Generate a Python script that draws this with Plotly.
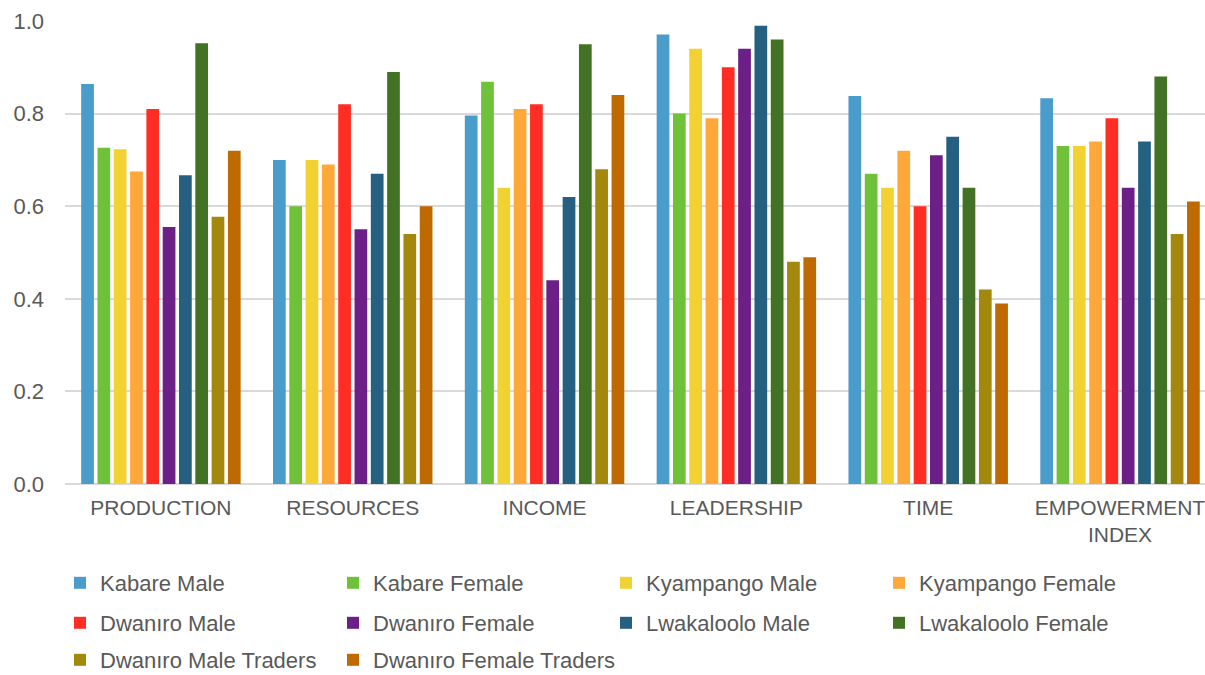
import plotly.graph_objects as go

categories = ["PRODUCTION", "RESOURCES", "INCOME", "LEADERSHIP", "TIME", "EMPOWERMENT<br>INDEX"]

series_names = [
    "Kabare Male", "Kabare Female", "Kyampango Male", "Kyampango Female",
    "Dwanıro Male", "Dwanıro Female", "Lwakaloolo Male", "Lwakaloolo Female",
    "Dwanıro Male Traders", "Dwanıro Female Traders",
]

kabare_male = [0.864, 0.70, 0.796, 0.971, 0.838, 0.833]
kabare_female = [0.726, 0.60, 0.869, 0.80, 0.67, 0.73]
kyampango_male = [0.723, 0.70, 0.64, 0.94, 0.64, 0.73]
kyampango_female = [0.675, 0.69, 0.81, 0.79, 0.72, 0.74]
dwaniro_male = [0.81, 0.82, 0.82, 0.90, 0.60, 0.79]
dwaniro_female = [0.555, 0.55, 0.44, 0.94, 0.71, 0.64]
lwakaloolo_male = [0.667, 0.67, 0.62, 0.99, 0.75, 0.74]
lwakaloolo_female = [0.952, 0.89, 0.95, 0.96, 0.64, 0.88]
dwaniro_male_traders = [0.577, 0.54, 0.68, 0.48, 0.42, 0.54]
dwaniro_female_traders = [0.72, 0.60, 0.84, 0.49, 0.39, 0.61]

series_values = [
    kabare_male, kabare_female, kyampango_male, kyampango_female,
    dwaniro_male, dwaniro_female, lwakaloolo_male, lwakaloolo_female,
    dwaniro_male_traders, dwaniro_female_traders,
]

colors = [
    "#4A9CCB", "#70C13A", "#F1D232", "#FFA83A", "#FF2D23",
    "#6C1F86", "#266081", "#427325", "#A4870D", "#BE6A00",
]

y_ticks = [0.0, 0.2, 0.4, 0.6, 0.8, 1.0]
y_tick_labels = ["0.0", "0.2", "0.4", "0.6", "0.8", "1.0"]

FONT = "Liberation Sans, Arial, sans-serif"
GREY = "#595959"

# legend rows: four entries, four entries, then the two trader entries
# each in a legend of its own so the long last label is not clipped
legend_ids = ["legend"] * 4 + ["legend2"] * 4 + ["legend3", "legend4"]

fig = go.Figure()
for name, vals, col, lg in zip(series_names, series_values, colors, legend_ids):
    fig.add_trace(go.Bar(
        x=categories, y=vals, name=name, legend=lg,
        marker=dict(color=col, line=dict(width=0)),
    ))

W, H = 1205, 675
ml, mr, mt, mb = 65, 0, 21, 191
COL_STEP = 273   # horizontal distance between legend columns
LEG_LEFT = 60    # left edge of the first legend column
ITEM_EXTRA = 45  # symbol area + gap that plotly adds to each entry width


def row_y(px):
    # container-referenced vertical position of a legend row centre
    return 1 - px / H


def col_x(i):
    return (LEG_LEFT + i * COL_STEP) / W


legend_common = dict(
    orientation="h", xanchor="left", yanchor="middle",
    xref="container", yref="container",
    font=dict(family=FONT, size=22, color=GREY),
    bgcolor="rgba(0,0,0,0)", itemclick=False, traceorder="normal",
)

fig.update_layout(
    width=W, height=H,
    margin=dict(l=ml, r=mr, t=mt, b=mb, autoexpand=False),
    paper_bgcolor="white", plot_bgcolor="white",
    barmode="group", bargap=0.15, bargroupgap=0.22,
    font=dict(family=FONT, size=21, color=GREY),
    xaxis=dict(
        range=[-0.5, 5.443], showgrid=False, showline=False, ticks="",
        tickfont=dict(family=FONT, size=21, color=GREY),
        ticklabelstandoff=9,
    ),
    yaxis=dict(
        range=[0, 1.0], tickvals=y_ticks, ticktext=y_tick_labels,
        showgrid=True, gridcolor="#D9D9D9", gridwidth=1.5,
        zeroline=True, zerolinecolor="#D9D9D9", zerolinewidth=1.5,
        showline=False, ticks="",
        tickfont=dict(family=FONT, size=22, color=GREY),
        ticklabelstandoff=20,
    ),
    legend=dict(legend_common, x=col_x(0), y=row_y(583),
                entrywidth=COL_STEP - ITEM_EXTRA, entrywidthmode="pixels"),
    legend2=dict(legend_common, x=col_x(0), y=row_y(623),
                 entrywidth=COL_STEP - ITEM_EXTRA, entrywidthmode="pixels"),
    legend3=dict(legend_common, x=col_x(0), y=row_y(660)),
    legend4=dict(legend_common, x=col_x(1), y=row_y(660)),
    showlegend=True,
)

fig.write_html("out.html")
